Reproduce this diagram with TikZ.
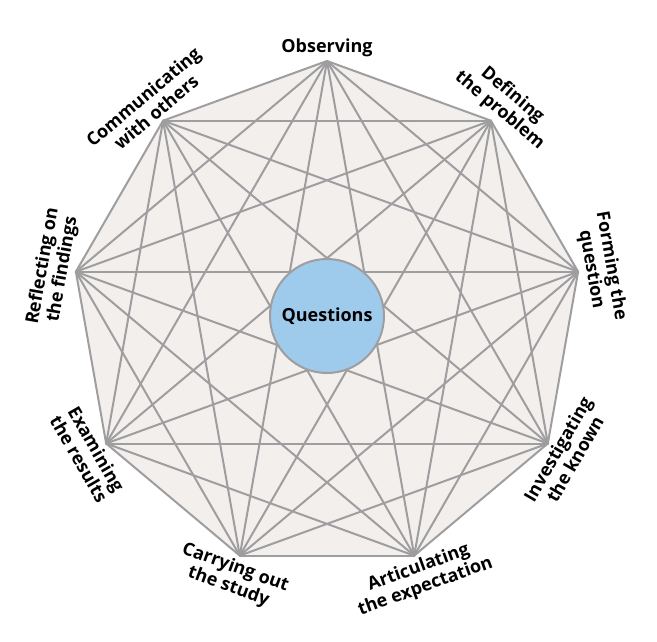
\documentclass[tikz,border=0pt]{standalone}
\usepackage{fontspec}
\setmainfont{Open Sans}
\usepackage{xcolor}
\definecolor{webfill}{RGB}{243,239,237}
\definecolor{webline}{RGB}{158,158,160}
\definecolor{qblue}{RGB}{158,202,236}

\tikzset{
  steplabel/.style={font=\fontsize{18}{20}\selectfont\bfseries, align=center, inner sep=4pt},
  webedge/.style={webline, line width=2pt, line cap=round}
}

\begin{document}
\begin{tikzpicture}[x=1pt,y=1pt]
    \useasboundingbox (-327,-325) rectangle (330,316);

    % Corners of the nonagon
    \foreach \k in {1,...,9}
        \coordinate (v\k) at ({130-40*\k}:255);

    % Background
    \fill[webfill] (v1) -- (v2) -- (v3) -- (v4) -- (v5) -- (v6) -- (v7) -- (v8) -- (v9) -- cycle;

    % Every corner joined to every other
    \foreach \i in {1,...,8}{
        \pgfmathtruncatemacro{\n}{\i+1}
        \foreach \j in {\n,...,9}
            \draw[webedge] (v\i) -- (v\j);
    }

    % Hub
    \node[circle, draw=webline, fill=qblue, line width=2pt, minimum size=114pt,
          font=\fontsize{18}{20}\selectfont\bfseries] (hub) at (0,0) {Questions};

    % Steps, upper half
    \node[steplabel, anchor=south, rotate=0] (observing) at (v1) {Observing};
    \node[steplabel, anchor=south, rotate=-40] (defining) at (v2) {Defining\\the problem};
    \node[steplabel, anchor=south, rotate=-80] (forming) at (v3) {Forming the\\question};
    \node[steplabel, anchor=south, rotate=80] (reflecting) at (v8) {Reflecting on\\the findings};
    \node[steplabel, anchor=south, rotate=40] (communicating) at (v9) {Communicating\\with others};

    % Steps, lower half
    \node[steplabel, anchor=north, rotate=60] (investigating) at (v4) {Investigating\\the known};
    \node[steplabel, anchor=north, rotate=20] (articulating) at (v5) {Articulating\\the expectation};
    \node[steplabel, anchor=north, rotate=-20] (carrying) at (v6) {Carrying out\\the study};
    \node[steplabel, anchor=north, rotate=-60] (examining) at (v7) {Examining\\the results};
\end{tikzpicture}
\end{document}
